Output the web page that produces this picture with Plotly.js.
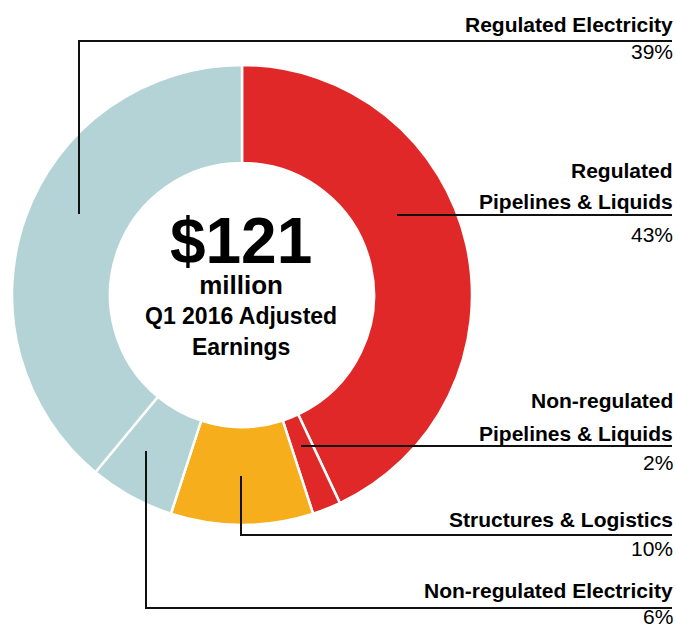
<!DOCTYPE html>
<html>
<head>
<meta charset="utf-8">
<script src="https://cdn.plot.ly/plotly-3.0.1.min.js"></script>
<style>html,body{margin:0;padding:0;background:#fff;}#chart{width:676px;height:628px;}</style>
</head>
<body>
<div id="chart"></div>
<script>
// ---- data ----
const segments = ["Regulated Pipelines & Liquids", "Non-regulated Pipelines & Liquids", "Structures & Logistics", "Non-regulated Electricity", "Regulated Electricity"];
const shares = [43, 2, 10, 6, 39];
const segmentColors = ["#E02828", "#E02828", "#F7AE1D", "#B3D3D6", "#B3D3D6"];
const labelLines = [["Regulated Electricity"], ["Regulated", "Pipelines & Liquids"], ["Non-regulated", "Pipelines & Liquids"], ["Structures & Logistics"], ["Non-regulated Electricity"]];
const labelPcts = ["39%", "43%", "2%", "10%", "6%"];
const centerLines = ["$121", "million", "Q1 2016 Adjusted", "Earnings"];

// ---- layout helpers (pixel -> paper) ----
const W = 676, H = 628;
const px = x => x / W;
const py = y => 1 - y / H;
const FONT = "Liberation Sans, Arial, sans-serif";

const cx = 242, cy = 295, R = 230;

function textAnn(text, xPix, baseline, size, bold, anchor) {
  return {
    xref: "paper", yref: "paper",
    x: px(xPix), y: py(baseline - 0.35 * size),
    xanchor: anchor, yanchor: "middle",
    text: bold ? "<b>" + text + "</b>" : text,
    showarrow: false,
    borderpad: 0,
    font: { family: FONT, size: size, color: "#000" }
  };
}

const annotations = [];
// center text as one multi-line block
const centerSizes = [64, 26, 23, 23];
const centerText = centerLines.map((t, i) => '<span style="font-size:' + centerSizes[i] + 'px"><b>' + t + '</b></span>').join("<br>");
annotations.push({
  xref: "paper", yref: "paper",
  x: px(241), y: py(282),
  xanchor: "center", yanchor: "middle",
  text: centerText,
  showarrow: false,
  borderpad: 0,
  align: "center",
  font: { family: FONT, size: 23.5, color: "#000" }
});

// right labels
const labelBaselines = [[32], [178, 209], [408, 441], [527], [598]];
const pctBaselines = [59, 242, 470, 556, 624];
labelLines.forEach((lines, i) => {
  lines.forEach((t, j) => annotations.push(textAnn(t, 674, labelBaselines[i][j], 21, true, "right")));
  annotations.push(textAnn(labelPcts[i], 674, pctBaselines[i], 21, false, "right"));
});

// leader lines
const leaderPaths = [
  [[79, 214], [79, 41], [672, 41]],
  [[397, 215], [672, 215]],
  [[301, 446], [672, 446]],
  [[241, 476], [241, 535], [672, 535]],
  [[146, 451], [146, 608], [672, 608]]
];
const shapes = leaderPaths.map(pts => ({
  type: "path", xref: "paper", yref: "paper",
  path: pts.map((p, k) => (k ? "L" : "M") + px(p[0]) + "," + py(p[1])).join(" "),
  line: { color: "#111", width: 2 }
}));

const trace = {
  type: "pie",
  labels: segments,
  values: shares,
  sort: false,
  direction: "clockwise",
  rotation: 0,
  hole: 132 / 230,
  textinfo: "none",
  hoverinfo: "label+percent",
  marker: { colors: segmentColors, line: { color: "#ffffff", width: 2.5 } },
  domain: { x: [px(cx - R), px(cx + R)], y: [py(cy + R), py(cy - R)] },
  showlegend: false
};

const layout = {
  width: W, height: H,
  margin: { l: 0, r: 0, t: 0, b: 0 },
  paper_bgcolor: "#fff",
  plot_bgcolor: "#fff",
  showlegend: false,
  annotations: annotations,
  shapes: shapes,
  font: { family: FONT }
};

Plotly.newPlot("chart", [trace], layout, { displayModeBar: false, staticPlot: true });
</script>
</body>
</html>
